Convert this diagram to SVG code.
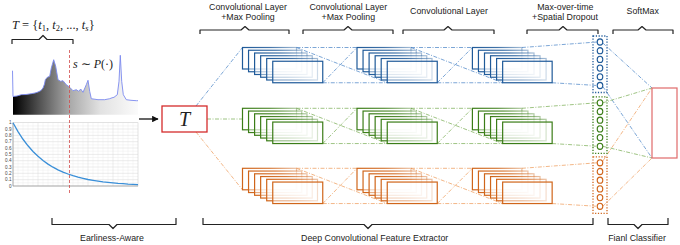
<svg xmlns="http://www.w3.org/2000/svg" xmlns:xlink="http://www.w3.org/1999/xlink" width="680" height="245" viewBox="0 0 680 245">
<style>
.lbl{font-family:"Liberation Sans",Arial,sans-serif;font-size:8.8px;fill:#222;text-anchor:middle}
.math{font-family:"Liberation Serif","Times New Roman",serif;fill:#222}
.brace{fill:none;stroke:#222;stroke-width:1.2;stroke-linejoin:round}
.tick{font-family:"Liberation Sans",Arial,sans-serif;font-size:4.6px;fill:#444;text-anchor:end}
.cb{fill:none;stroke:#5b8fcc;stroke-width:0.8;stroke-dasharray:4 1.5 1 1.5}
.cg{fill:none;stroke:#86b564;stroke-width:0.8;stroke-dasharray:4 1.5 1 1.5}
.co{fill:none;stroke:#f0a46a;stroke-width:0.8;stroke-dasharray:4 1.5 1 1.5}
.blue{stroke:url(#gB);color:#1f5a99}
.green{stroke:url(#gG);color:#3b7d17}
.orange{stroke:url(#gO);color:#d0651a}
.dotB{fill:none;stroke:#1f5a99;stroke-width:1.3;stroke-dasharray:1.2 1.6}
.dotG{fill:none;stroke:#3b7d17;stroke-width:1.3;stroke-dasharray:1.2 1.6}
.dotO{fill:none;stroke:#d0651a;stroke-width:1.3;stroke-dasharray:1.2 1.6}
.grid{stroke:#ececec;stroke-width:0.5}
.gridM{stroke:#d8d8d8;stroke-width:0.5}
</style>
<defs>
<linearGradient id="gB" x1="0" y1="0" x2="1" y2="0"><stop offset="0" stop-color="#1f5a99"/><stop offset="0.5" stop-color="#1f5a99" stop-opacity="0.85"/><stop offset="1" stop-color="#1f5a99" stop-opacity="0.4"/></linearGradient>
<linearGradient id="gG" x1="0" y1="0" x2="1" y2="0"><stop offset="0" stop-color="#3b7d17"/><stop offset="0.5" stop-color="#3b7d17" stop-opacity="0.85"/><stop offset="1" stop-color="#3b7d17" stop-opacity="0.4"/></linearGradient>
<linearGradient id="gO" x1="0" y1="0" x2="1" y2="0"><stop offset="0" stop-color="#d0651a"/><stop offset="0.5" stop-color="#d0651a" stop-opacity="0.85"/><stop offset="1" stop-color="#d0651a" stop-opacity="0.4"/></linearGradient>
<linearGradient id="spec" gradientUnits="userSpaceOnUse" x1="13" y1="0" x2="138" y2="0">
<stop offset="0" stop-color="#000"/><stop offset="0.22" stop-color="#555"/><stop offset="0.45" stop-color="#a8a8a8"/><stop offset="0.7" stop-color="#e2e2e2"/><stop offset="1" stop-color="#fbfbfb"/></linearGradient>
<marker id="arr" viewBox="0 0 10 10" refX="9" refY="5" markerWidth="5" markerHeight="5" orient="auto"><path d="M0,0 L10,5 L0,10 z" fill="#111"/></marker>
<g id="stkA" fill="#fff" fill-opacity="0.45" stroke-width="1.2">
<rect x="0" y="0" width="54" height="21.5"/>
<rect x="6.05" y="2.75" width="53.2" height="21.5"/>
<rect x="12.1" y="5.5" width="52.4" height="21.5"/>
<rect x="18.15" y="8.25" width="51.6" height="21.5"/>
<rect x="24.2" y="11" width="50.8" height="21.5"/>
<rect x="30.25" y="13.75" width="50" height="21.5" stroke="currentColor"/>
</g>
<g id="stkB" fill="#fff" fill-opacity="0.45" stroke-width="1.2">
<rect x="0" y="0" width="49.5" height="21.5"/>
<rect x="6.05" y="2.75" width="49.5" height="21.5"/>
<rect x="12.1" y="5.5" width="49.5" height="21.5"/>
<rect x="18.15" y="8.25" width="49.5" height="21.5"/>
<rect x="24.2" y="11" width="49.5" height="21.5"/>
<rect x="30.25" y="13.75" width="49.5" height="21.5" stroke="currentColor"/>
</g>
<g id="colCircles" fill="none" stroke-width="1.1">
<ellipse cx="600" cy="0" rx="2.8" ry="3.1"/>
<ellipse cx="600" cy="8.7" rx="2.8" ry="3.1"/>
<ellipse cx="600" cy="17.4" rx="2.8" ry="3.1"/>
<ellipse cx="600" cy="26.1" rx="2.8" ry="3.1"/>
<ellipse cx="600" cy="34.8" rx="2.8" ry="3.1"/>
<ellipse cx="600" cy="43.5" rx="2.8" ry="3.1"/>
</g>
</defs>
<rect width="680" height="245" fill="#fff"/>

<g id="connectors">
<line x1="139" y1="119" x2="158" y2="119" stroke="#111" stroke-width="1.3" marker-end="url(#arr)"/>
<!-- blue row -->
<line class="cb" x1="196" y1="106" x2="242.5" y2="47.5"/>
<line class="cb" x1="296.5" y1="47.5" x2="357" y2="47.5"/>
<line class="cb" x1="322.75" y1="82.75" x2="387.25" y2="82.75"/>
<line class="cb" x1="296.5" y1="47.5" x2="387.25" y2="82.75"/>
<line class="cb" x1="322.75" y1="82.75" x2="357" y2="47.5"/>
<line class="cb" x1="411" y1="47.5" x2="472.4" y2="47.5"/>
<line class="cb" x1="437.25" y1="82.75" x2="502.65" y2="82.75"/>
<line class="cb" x1="411" y1="47.5" x2="502.65" y2="82.75"/>
<line class="cb" x1="437.25" y1="82.75" x2="472.4" y2="47.5"/>
<line class="cb" x1="521.9" y1="47.5" x2="597.2" y2="42"/>
<line class="cb" x1="552.15" y1="82.75" x2="597.2" y2="85.5"/>
<line class="cb" x1="602.8" y1="43" x2="652" y2="88"/>
<line class="cb" x1="602.8" y1="86.5" x2="652" y2="158"/>
<!-- green row -->
<line class="cg" x1="207" y1="119" x2="242.5" y2="119"/>
<line class="cg" x1="296.5" y1="108.3" x2="357" y2="108.3"/>
<line class="cg" x1="322.75" y1="143.55" x2="387.25" y2="143.55"/>
<line class="cg" x1="296.5" y1="108.3" x2="387.25" y2="143.55"/>
<line class="cg" x1="322.75" y1="143.55" x2="357" y2="108.3"/>
<line class="cg" x1="411" y1="108.3" x2="472.4" y2="108.3"/>
<line class="cg" x1="437.25" y1="143.55" x2="502.65" y2="143.55"/>
<line class="cg" x1="411" y1="108.3" x2="502.65" y2="143.55"/>
<line class="cg" x1="437.25" y1="143.55" x2="472.4" y2="108.3"/>
<line class="cg" x1="521.9" y1="108.3" x2="597.2" y2="102.8"/>
<line class="cg" x1="552.15" y1="143.55" x2="597.2" y2="146.3"/>
<line class="cg" x1="602.8" y1="102.8" x2="652" y2="88"/>
<line class="cg" x1="602.8" y1="146.3" x2="652" y2="158"/>
<!-- orange row -->
<line class="co" x1="196" y1="132" x2="242.5" y2="189.8"/>
<line class="co" x1="296.5" y1="168.3" x2="357" y2="168.3"/>
<line class="co" x1="322.75" y1="203.55" x2="387.25" y2="203.55"/>
<line class="co" x1="296.5" y1="168.3" x2="387.25" y2="203.55"/>
<line class="co" x1="322.75" y1="203.55" x2="357" y2="168.3"/>
<line class="co" x1="411" y1="168.3" x2="472.4" y2="168.3"/>
<line class="co" x1="437.25" y1="203.55" x2="502.65" y2="203.55"/>
<line class="co" x1="411" y1="168.3" x2="502.65" y2="203.55"/>
<line class="co" x1="437.25" y1="203.55" x2="472.4" y2="168.3"/>
<line class="co" x1="521.9" y1="168.3" x2="597.2" y2="162.8"/>
<line class="co" x1="552.15" y1="203.55" x2="597.2" y2="206.3"/>
<line class="co" x1="602.8" y1="161" x2="652" y2="88"/>
<line class="co" x1="602.8" y1="206.3" x2="652" y2="158"/>
</g>

<g id="input-series">
<text class="math" x="12" y="28.5" font-size="12.5"><tspan font-style="italic">T</tspan> = {<tspan font-style="italic">t</tspan><tspan font-size="8.5" dy="2.2">1</tspan><tspan dy="-2.2">, </tspan><tspan font-style="italic">t</tspan><tspan font-size="8.5" dy="2.2">2</tspan><tspan dy="-2.2">, ..., </tspan><tspan font-style="italic">t</tspan><tspan font-size="8.5" font-style="italic" dy="2.2">s</tspan><tspan dy="-2.2">}</tspan></text>
<path class="brace" d="M12,44 L12,39.5 L39,39.5 L43,35.5 L47,39.5 L73,39.5 L73,44"/>
<path d="M13,114.7 L13,96.5 17,96 21.3,94.7 26,94.5 31.3,93.7 35,93 38,92 41,90.5 43,88 44.5,84 45.3,79.7 47.3,77.3 49.7,76.3 51.3,68 53.7,59.7 55.7,66.3 58,79.7 60.7,81.3 63,80.7 66.3,84.7 69.7,87.3 73,90.7 76.3,89.7 78.7,91.3 80.7,89 83,92.3 86.3,84.7 88,80.3 89.7,91.3 91.3,98.7 98,99.7 104.7,99.7 109.7,98.7 112,97.8 114,97.3 117.3,94.7 119,81.3 120.3,55.3 121.7,81.3 123.3,94.7 126.3,99.7 131,100.3 136.3,100.7 138,100.7 L138,114.7 Z" fill="url(#spec)"/>
<polyline fill="none" stroke="#7b89ef" stroke-width="0.9" stroke-linejoin="round" points="12.5,70.7 13,96.5 17,96 21.3,94.7 26,94.5 31.3,93.7 35,93 38,92 41,90.5 43,88 44.5,84 45.3,79.7 47.3,77.3 49.7,76.3 51.3,68 53.7,59.7 55.7,66.3 58,79.7 60.7,81.3 63,80.7 66.3,84.7 69.7,87.3 73,90.7 76.3,89.7 78.7,91.3 80.7,89 83,92.3 86.3,84.7 88,80.3 89.7,91.3 91.3,98.7 98,99.7 104.7,99.7 109.7,98.7 112,97.8 114,97.3 117.3,94.7 119,81.3 120.3,55.3 121.7,81.3 123.3,94.7 126.3,99.7 131,100.3 136.3,100.7 138,100.7"/>
<text class="math" x="73" y="68" font-size="12"><tspan font-style="italic">s</tspan> ∼ <tspan font-style="italic">P</tspan>(·)</text>
</g>

<g id="decay-chart">
<g class="grid">
<line x1="18" y1="122.7" x2="18" y2="186"/><line x1="23" y1="122.7" x2="23" y2="186"/><line x1="28" y1="122.7" x2="28" y2="186"/><line x1="33" y1="122.7" x2="33" y2="186"/>
<line x1="43" y1="122.7" x2="43" y2="186"/><line x1="48" y1="122.7" x2="48" y2="186"/><line x1="53" y1="122.7" x2="53" y2="186"/><line x1="58" y1="122.7" x2="58" y2="186"/>
<line x1="68" y1="122.7" x2="68" y2="186"/><line x1="73" y1="122.7" x2="73" y2="186"/><line x1="78" y1="122.7" x2="78" y2="186"/><line x1="83" y1="122.7" x2="83" y2="186"/>
<line x1="93" y1="122.7" x2="93" y2="186"/><line x1="98" y1="122.7" x2="98" y2="186"/><line x1="103" y1="122.7" x2="103" y2="186"/><line x1="108" y1="122.7" x2="108" y2="186"/>
<line x1="118" y1="122.7" x2="118" y2="186"/><line x1="123" y1="122.7" x2="123" y2="186"/><line x1="128" y1="122.7" x2="128" y2="186"/><line x1="133" y1="122.7" x2="133" y2="186"/>
<line x1="13" y1="125.9" x2="138" y2="125.9"/><line x1="13" y1="132.2" x2="138" y2="132.2"/><line x1="13" y1="138.5" x2="138" y2="138.5"/><line x1="13" y1="144.9" x2="138" y2="144.9"/><line x1="13" y1="151.2" x2="138" y2="151.2"/><line x1="13" y1="157.5" x2="138" y2="157.5"/><line x1="13" y1="163.8" x2="138" y2="163.8"/><line x1="13" y1="170.2" x2="138" y2="170.2"/><line x1="13" y1="176.5" x2="138" y2="176.5"/><line x1="13" y1="182.8" x2="138" y2="182.8"/>
</g>
<g class="gridM">
<line x1="38" y1="122.7" x2="38" y2="186"/><line x1="63" y1="122.7" x2="63" y2="186"/><line x1="88" y1="122.7" x2="88" y2="186"/><line x1="113" y1="122.7" x2="113" y2="186"/>
<line x1="13" y1="129.0" x2="138" y2="129.0"/><line x1="13" y1="135.4" x2="138" y2="135.4"/><line x1="13" y1="141.7" x2="138" y2="141.7"/><line x1="13" y1="148.0" x2="138" y2="148.0"/><line x1="13" y1="154.4" x2="138" y2="154.4"/><line x1="13" y1="160.7" x2="138" y2="160.7"/><line x1="13" y1="167.0" x2="138" y2="167.0"/><line x1="13" y1="173.3" x2="138" y2="173.3"/><line x1="13" y1="179.7" x2="138" y2="179.7"/>
</g>
<rect x="13" y="122.7" width="125" height="63.3" fill="none" stroke="#cfcfcf" stroke-width="0.6"/>
<line x1="13" y1="122.7" x2="13" y2="186" stroke="#888" stroke-width="0.6"/>
<line x1="13" y1="186" x2="138" y2="186" stroke="#888" stroke-width="0.6"/>
<g class="tick">
<text x="11.5" y="124.3">1</text><text x="11.5" y="130.6">0.9</text><text x="11.5" y="137">0.8</text><text x="11.5" y="143.3">0.7</text><text x="11.5" y="149.6">0.6</text><text x="11.5" y="156">0.5</text><text x="11.5" y="162.3">0.4</text><text x="11.5" y="168.6">0.3</text><text x="11.5" y="174.9">0.2</text><text x="11.5" y="181.3">0.1</text><text x="11.5" y="187.6">0</text>
</g>
<polyline fill="none" stroke="#3a8fd8" stroke-width="1.3" points="13,122.7 18,131.6 23,139.25 28,145.8 33,151.5 38,156.3 43,160.5 48,164.1 53,167.2 58,169.8 63,172.1 68,174 73,175.7 78,177.2 83,178.4 88,179.5 93,180.4 98,181.2 103,181.9 108,182.4 113,182.9 118,183.4 123,183.7 128,184.1 133,184.3 138,184.6"/>
</g>

<line id="split-line" x1="69.5" y1="50" x2="69.5" y2="193" stroke="#d24a4a" stroke-width="0.8" stroke-dasharray="3 2"/>

<g id="T-node">
<rect x="162" y="106" width="45" height="26" fill="#fff" stroke="#d42b2b" stroke-width="1.3"/>
<text class="math" x="184.5" y="126" font-size="20" font-style="italic" text-anchor="middle">T</text>
</g>

<g id="blue-conv1" class="blue"><use xlink:href="#stkA" x="242.5" y="47.5"/></g>
<g id="blue-conv2" class="blue"><use xlink:href="#stkA" x="357" y="47.5"/></g>
<g id="blue-conv3" class="blue"><use xlink:href="#stkB" x="472.4" y="47.5"/></g>
<g id="green-conv1" class="green"><use xlink:href="#stkA" x="242.5" y="108.3"/></g>
<g id="green-conv2" class="green"><use xlink:href="#stkA" x="357" y="108.3"/></g>
<g id="green-conv3" class="green"><use xlink:href="#stkB" x="472.4" y="108.3"/></g>
<g id="orange-conv1" class="orange"><use xlink:href="#stkA" x="242.5" y="168.3"/></g>
<g id="orange-conv2" class="orange"><use xlink:href="#stkA" x="357" y="168.3"/></g>
<g id="orange-conv3" class="orange"><use xlink:href="#stkB" x="472.4" y="168.3"/></g>

<g id="blue-pool"><rect class="dotB" x="593" y="36" width="14" height="56.5"/><use xlink:href="#colCircles" y="42" stroke="#1f5a99"/></g>
<g id="green-pool"><rect class="dotG" x="593" y="96.8" width="14" height="56.5"/><use xlink:href="#colCircles" y="102.8" stroke="#3b7d17"/></g>
<g id="orange-pool"><rect class="dotO" x="593" y="156.8" width="14" height="56.5"/><use xlink:href="#colCircles" y="162.8" stroke="#d0651a"/></g>

<g id="softmax"><rect x="652" y="88" width="25" height="70" fill="none" stroke="#e06a6a" stroke-width="1.2"/></g>

<g id="labels">
<text class="lbl" x="248" y="9.5">Convolutional Layer</text>
<text class="lbl" x="248" y="20">+Max Pooling</text>
<text class="lbl" x="348.3" y="9.5">Convolutional Layer</text>
<text class="lbl" x="348.3" y="20">+Max Pooling</text>
<text class="lbl" x="449" y="14">Convolutional Layer</text>
<text class="lbl" x="565.3" y="9.5">Max-over-time</text>
<text class="lbl" x="565" y="20">+Spatial Dropout</text>
<text class="lbl" x="642.7" y="14">SoftMax</text>
<text class="lbl" x="112" y="241">Earliness-Aware</text>
<text class="lbl" x="374.7" y="241">Deep Convolutional Feature Extractor</text>
<text class="lbl" x="637" y="241">Fianl Classifier</text>
</g>

<g id="braces">
<path class="brace" d="M200,34 L200,30 L241,30 L245,26.5 L249,30 L289,30 L289,34"/>
<path class="brace" d="M303,34 L303,30 L344,30 L348,26.5 L352,30 L393,30 L393,34"/>
<path class="brace" d="M403,34 L403,30 L444,30 L448,26.5 L452,30 L494,30 L494,34"/>
<path class="brace" d="M527,34 L527,30 L559,30 L563,26.5 L567,30 L598,30 L598,34"/>
<path class="brace" d="M613,34 L613,30 L638,30 L642,26.5 L646,30 L673,30 L673,34"/>
<path class="brace" d="M52,218 L52,224.5 L109,224.5 L113,228.5 L117,224.5 L176,224.5 L176,218"/>
<path class="brace" d="M203,218 L203,224.5 L364,224.5 L368,228.5 L372,224.5 L593,224.5 L593,218"/>
<path class="brace" d="M608,218 L608,224.5 L634,224.5 L638,228.5 L642,224.5 L668,224.5 L668,218"/>
</g>
</svg>
